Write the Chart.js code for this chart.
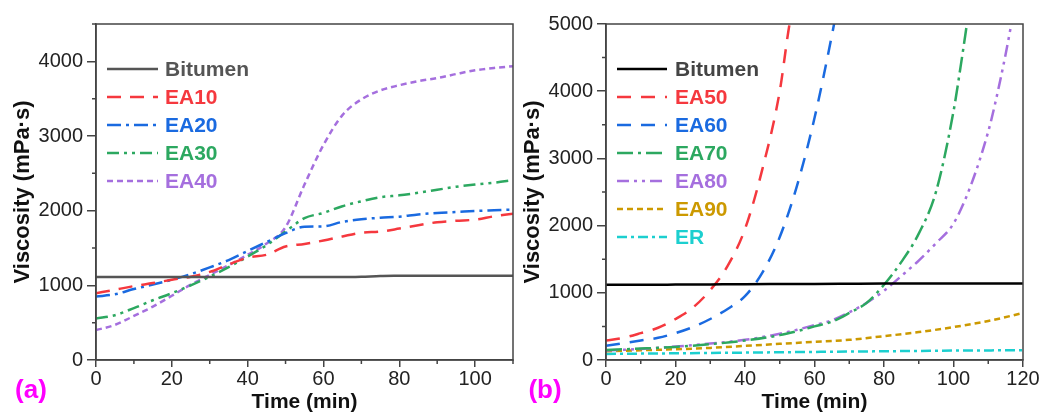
<!DOCTYPE html>
<html>
<head>
<meta charset="utf-8">
<script src="https://cdn.jsdelivr.net/npm/chart.js@4.4.1/dist/chart.umd.min.js"></script>
<style>
  body { margin: 0; background: #fff; }
  .panel { position: absolute; top: 0; height: 414px; }
  #panelA { left: 0; width: 521px; }
  #panelB { left: 521px; width: 522px; }
</style>
</head>
<body>
<div class="panel" id="panelA"><canvas id="chartA"></canvas></div>
<div class="panel" id="panelB"><canvas id="chartB"></canvas></div>
<script>
/*********************************************/
/*        data           */
/*********************************************/

// panel (a)
const timeA = [0, 5, 10, 15, 20, 25, 30, 35, 40, 45, 50, 55, 60, 65, 70, 75, 80, 85, 90, 95, 100, 105, 110];
const bitumenA = [1110, 1110, 1110, 1110, 1110, 1110, 1110, 1110, 1110, 1110, 1110, 1110, 1110, 1110, 1115, 1125, 1128, 1130, 1130, 1130, 1130, 1130, 1130];
const ea10 = [895, 940, 990, 1030, 1075, 1115, 1180, 1280, 1370, 1410, 1520, 1555, 1600, 1655, 1705, 1720, 1760, 1805, 1845, 1865, 1880, 1925, 1960];
const ea20 = [850, 880, 950, 1010, 1075, 1150, 1240, 1338, 1460, 1580, 1700, 1785, 1790, 1850, 1885, 1905, 1920, 1950, 1970, 1982, 1995, 2005, 2015];
const ea30 = [555, 600, 695, 800, 895, 1000, 1115, 1245, 1385, 1538, 1720, 1900, 1970, 2060, 2125, 2180, 2205, 2240, 2280, 2320, 2350, 2375, 2410];
const ea40 = [400, 470, 590, 715, 860, 1010, 1140, 1270, 1410, 1560, 1780, 2350, 2880, 3280, 3490, 3610, 3680, 3735, 3775, 3830, 3880, 3911, 3935];

// panel (b)
const timeB = [0, 10, 20, 30, 40, 50, 60, 70, 80, 90, 100, 110, 120];
const bitumenB = [1120, 1120, 1122, 1125, 1128, 1130, 1132, 1135, 1138, 1140, 1140, 1140, 1140];
const timeEA50 = [0, 5, 10, 15, 20, 25, 30, 35, 40, 45, 50, 52.5, 53.5];
const ea50 = [290, 330, 400, 480, 610, 780, 1040, 1400, 1950, 2840, 4000, 4900, 5200];
const timeEA60 = [0, 5, 10, 15, 20, 25, 30, 35, 40, 45, 50, 55, 60, 65, 66];
const ea60 = [210, 250, 290, 330, 400, 490, 610, 760, 950, 1300, 1830, 2600, 3600, 4830, 5100];
const timeEA70 = [0, 10, 20, 30, 40, 50, 55, 60, 65, 70, 75, 80, 85, 90, 95, 100, 102, 104];
const ea70 = [150, 170, 195, 235, 290, 370, 430, 500, 570, 700, 850, 1120, 1460, 1880, 2510, 3700, 4350, 5050];
const timeEA80 = [0, 10, 20, 30, 40, 50, 55, 60, 65, 70, 75, 80, 85, 90, 95, 100, 105, 110, 112, 115, 117];
const ea80 = [140, 165, 200, 245, 300, 390, 450, 520, 590, 710, 850, 1030, 1250, 1480, 1740, 2030, 2600, 3400, 3820, 4550, 5100];
const ea90 = [130, 145, 160, 180, 210, 240, 270, 300, 355, 415, 490, 580, 700];
const er = [90, 95, 100, 105, 110, 115, 120, 125, 130, 135, 140, 143, 145];

/*********************************************/
/*                 styling                   */
/*********************************************/

const FONT = "'Liberation Sans', Arial, sans-serif";
const AXIS = "#444";
const RED = "#f5383e";
const BLUE = "#1a6ae0";
const GREEN = "#2ca860";
const PURPLE = "#a56fde";
const GOLD = "#cc9900";
const CYAN = "#1ccfcf";

function series(label, times, values, color, dash, textColor) {
  return {
    label: label,
    data: times.map((t, i) => ({ x: t, y: values[i] })),
    borderColor: color,
    borderDash: dash,
    borderWidth: 2.5,
    pointRadius: 0,
    fill: false,
    cubicInterpolationMode: "monotone",
    legendText: textColor || color
  };
}

// frame, minor ticks, legend inside the plot and the panel letter
const panelDecor = {
  id: "panelDecor",
  afterDraw(chart, args, opts) {
    const c = chart.ctx;
    const a = chart.chartArea;
    const xs = chart.scales.x;
    const ys = chart.scales.y;
    c.save();
    c.strokeStyle = AXIS;
    c.lineWidth = 1.5;
    c.strokeRect(a.left, a.top, a.right - a.left, a.bottom - a.top);

    // minor ticks (half steps)
    c.beginPath();
    for (let v = 10; v <= xs.max; v += 20) {
      const px = xs.getPixelForValue(v);
      c.moveTo(px, a.bottom);
      c.lineTo(px, a.bottom + 4);
    }
    for (let v = 500; v <= ys.max; v += 1000) {
      const py = ys.getPixelForValue(v);
      c.moveTo(a.left, py);
      c.lineTo(a.left - 4, py);
    }
    c.stroke();

    // legend
    c.font = "bold 21px " + FONT;
    c.textBaseline = "middle";
    chart.data.datasets.forEach((ds, i) => {
      const y = opts.y0 + i * opts.step;
      c.beginPath();
      c.setLineDash(ds.borderDash || []);
      c.strokeStyle = ds.borderColor;
      c.lineWidth = 2.5;
      c.moveTo(opts.x1, y);
      c.lineTo(opts.x2, y);
      c.stroke();
      c.setLineDash([]);
      c.fillStyle = ds.legendText;
      c.fillText(ds.label, opts.textX, y + 1);
    });

    // (a) / (b)
    c.font = "bold 26px " + FONT;
    c.fillStyle = "#ff00ff";
    c.textAlign = "center";
    c.fillText(opts.letter, opts.letterX, 391);
    c.restore();
  }
};

// only every second step gets a label and a long tick
const isMajor = (v, major) => v % major === 0;

function makeChart(canvasId, datasets, xMax, yMax, yWidth, padRight, yTitlePad, decor) {
  const tickFont = { family: FONT, size: 20 };
  const config = {
    type: "line",
    data: { datasets: datasets },
    options: {
      responsive: true,
      maintainAspectRatio: false,
      animation: false,
      layout: { padding: { top: 24, right: padRight, left: 0, bottom: 0 } },
      plugins: {
        legend: { display: false },
        tooltip: { enabled: false },
        panelDecor: decor
      },
      scales: {
        x: {
          type: "linear",
          min: 0,
          max: xMax,
          afterFit: (s) => { s.height = 54; },
          ticks: {
            stepSize: 10,
            autoSkip: false,
            maxRotation: 0,
            padding: 0,
            color: "#222",
            font: tickFont,
            callback: (v) => (isMajor(v, 20) ? String(v) : "")
          },
          grid: {
            drawOnChartArea: false,
            tickLength: 7,
            lineWidth: 1.5,
            tickColor: (ctx) => (ctx.tick && isMajor(ctx.tick.value, 20) ? AXIS : "rgba(0,0,0,0)")
          },
          border: { color: AXIS, width: 1.5 },
          title: {
            display: true,
            text: "Time (min)",
            color: "#111",
            font: { family: FONT, size: 21, weight: "bold", lineHeight: 1 },
            padding: { top: 0, bottom: 1 }
          }
        },
        y: {
          min: 0,
          max: yMax,
          afterFit: (s) => { s.width = yWidth; },
          ticks: {
            stepSize: 500,
            autoSkip: false,
            padding: 4,
            color: "#222",
            font: tickFont,
            callback: (v) => (isMajor(v, 1000) ? String(v) : "")
          },
          grid: {
            drawOnChartArea: false,
            tickLength: 9,
            lineWidth: 1.5,
            tickColor: (ctx) => (ctx.tick && isMajor(ctx.tick.value, 1000) ? AXIS : "rgba(0,0,0,0)")
          },
          border: { color: AXIS, width: 1.5 },
          title: {
            display: true,
            text: "Viscosity (mPa·s)",
            color: "#111",
            font: { family: FONT, size: 22, weight: "bold", lineHeight: 1 },
            padding: { top: yTitlePad, bottom: 0 }
          }
        }
      }
    },
    plugins: [panelDecor]
  };
  return new Chart(document.getElementById(canvasId), config);
}

const chartA = makeChart("chartA", [
  series("Bitumen", timeA, bitumenA, "#555", [], "#555"),
  series("EA10", timeA, ea10, RED, [14, 9]),
  series("EA20", timeA, ea20, BLUE, [14, 5, 3, 5]),
  series("EA30", timeA, ea30, GREEN, [12, 5, 3, 5, 3, 5]),
  series("EA40", timeA, ea40, PURPLE, [6, 4])
], 110, 4500, 96, 8, 12, {
  x1: 107, x2: 158, textX: 165, y0: 69, step: 28, letter: "(a)", letterX: 31
});

const chartB = makeChart("chartB", [
  series("Bitumen", timeB, bitumenB, "#000", [], "#444"),
  series("EA50", timeEA50, ea50, RED, [14, 10]),
  series("EA60", timeEA60, ea60, BLUE, [14, 10]),
  series("EA70", timeEA70, ea70, GREEN, [16, 5, 3, 5]),
  series("EA80", timeEA80, ea80, PURPLE, [12, 5, 3, 5, 3, 5]),
  series("EA90", timeB, ea90, GOLD, [6, 4]),
  series("ER", timeB, er, CYAN, [10, 4, 3, 4])
], 120, 5000, 85, 20, 1, {
  x1: 96, x2: 146, textX: 154, y0: 69, step: 28, letter: "(b)", letterX: 24
});
</script>
</body>
</html>
